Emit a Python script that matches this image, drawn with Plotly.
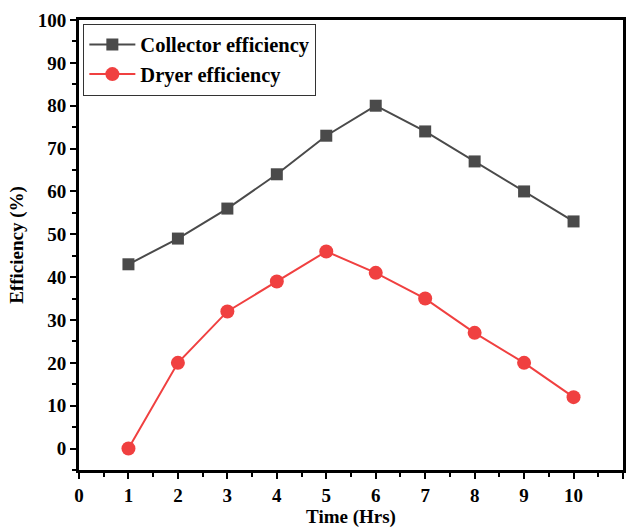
import plotly.graph_objects as go

time_hrs = [1, 2, 3, 4, 5, 6, 7, 8, 9, 10]
collector_eff = [43, 49, 56, 64, 73, 80, 74, 67, 60, 53]
dryer_eff = [0, 20, 32, 39, 46, 41, 35, 27, 20, 12]

font = "Liberation Serif"

fig = go.Figure()
fig.add_trace(go.Scatter(
    x=time_hrs, y=collector_eff, mode="lines+markers", name="Collector efficiency",
    line=dict(color="#4a4a4a", width=2),
    marker=dict(symbol="square", size=12, color="#4a4a4a"),
))
fig.add_trace(go.Scatter(
    x=time_hrs, y=dryer_eff, mode="lines+markers", name="Dryer efficiency",
    line=dict(color="#f04040", width=2),
    marker=dict(symbol="circle", size=14, color="#f04040"),
))

axis_common = dict(
    showline=True, linecolor="black", linewidth=3, mirror=True,
    ticks="outside", tickwidth=2, ticklen=6, tickcolor="black",
    showgrid=False, zeroline=False, automargin=False,
    tickfont=dict(family=font, size=19, color="black", weight="bold"),
)

fig.update_xaxes(
    range=[0, 11], tick0=0, dtick=1,
    minor=dict(ticks="outside", ticklen=4, tickwidth=2, tickcolor="black", dtick=0.5, showgrid=False),
    title=dict(text="<b>Time (Hrs)</b>", font=dict(family=font, size=19, color="black"), standoff=2),
    **axis_common,
)
fig.update_yaxes(
    range=[-5, 100], tick0=0, dtick=10,
    minor=dict(ticks="outside", ticklen=4, tickwidth=2, tickcolor="black", dtick=5, showgrid=False),
    title=dict(text="<b>Efficiency (%)</b>", font=dict(family=font, size=19, color="black"), standoff=10),
    **axis_common,
)

fig.update_layout(
    width=631, height=528,
    margin=dict(l=79, r=8, t=20, b=58),
    plot_bgcolor="white", paper_bgcolor="white",
    legend=dict(
        x=0.008, y=0.992, xanchor="left", yanchor="top",
        bordercolor="#333333", borderwidth=1, bgcolor="white",
        font=dict(family=font, size=20.5, color="black", weight="bold"),
        itemwidth=46, tracegroupgap=0,
    ),
)

fig.write_html("out.html")
